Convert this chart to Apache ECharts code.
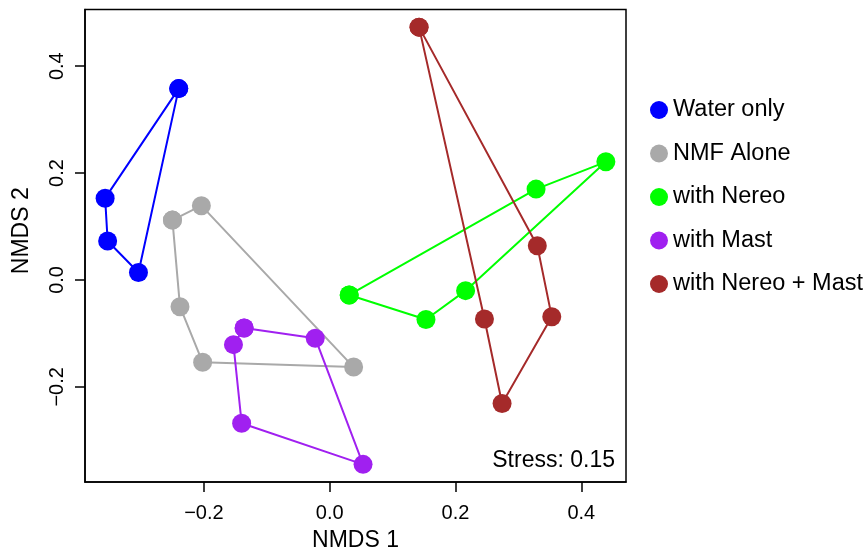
<!DOCTYPE html>
<html>
<head>
<meta charset="utf-8">
<script src="https://cdn.jsdelivr.net/npm/echarts@6/dist/echarts.min.js"></script>
<style>
html,body{margin:0;padding:0;background:#fff;}
#chart{width:863px;height:557px;}
</style>
</head>
<body>
<div id="chart"></div>
<script>
// Data (NMDS coordinates), in hull order
const groupNames = ["Water only", "NMF Alone", "with Nereo", "with Mast", "with Nereo + Mast"];
const waterX = [-0.240, -0.357, -0.353, -0.304];
const waterY = [0.358, 0.153, 0.073, 0.014];
const nmfX = [-0.250, -0.204, 0.038, -0.202, -0.238];
const nmfY = [0.112, 0.139, -0.163, -0.154, -0.050];
const nereoX = [0.031, 0.328, 0.439, 0.216, 0.153];
const nereoY = [-0.028, 0.170, 0.221, -0.020, -0.074];
const mastX = [-0.136, -0.023, 0.053, -0.140, -0.153];
const mastY = [-0.090, -0.109, -0.345, -0.268, -0.121];
const bothX = [0.142, 0.330, 0.353, 0.274, 0.246];
const bothY = [0.473, 0.064, -0.069, -0.231, -0.073];
const xTicks = [-0.2, 0.0, 0.2, 0.4];
const yTicks = [-0.2, 0.0, 0.2, 0.4];
const stressLabel = "Stress: 0.15";

const colors = ["#0000FF", "#A9A9A9", "#00FF00", "#A020F0", "#A52A2A"];
const groupsX = [waterX, nmfX, nereoX, mastX, bothX];
const groupsY = [waterY, nmfY, nereoY, mastY, bothY];

function closed(xs, ys) {
  const pts = xs.map((x, i) => [x, ys[i]]);
  pts.push([xs[0], ys[0]]);
  return pts;
}
const fmt = v => v.toFixed(1).replace('-', '\u2212');
const FONT = "Liberation Sans, Arial, Helvetica, sans-serif";

const chart = echarts.init(document.getElementById('chart'), null, {renderer: 'canvas'});
chart.setOption({
  animation: false,
  backgroundColor: '#ffffff',
  grid: {left: 85, right: 237, top: 9.5, bottom: 75, show: true, borderColor: '#000', borderWidth: 1.5, backgroundColor: 'transparent'},
  xAxis: {
    type: 'value', min: -0.389, max: 0.471,
    name: 'NMDS 1', nameLocation: 'middle', nameGap: 47,
    nameTextStyle: {fontFamily: FONT, fontSize: 23, color: '#000'},
    axisLine: {show: true, onZero: false, lineStyle: {color: '#000', width: 1.5}},
    axisTick: {show: true, length: 10, lineStyle: {color: '#000', width: 1.5}, customValues: xTicks},
    axisLabel: {fontFamily: FONT, fontSize: 20, color: '#000', margin: 21, customValues: xTicks, formatter: fmt},
    splitLine: {show: false}
  },
  yAxis: {
    type: 'value', min: -0.378, max: 0.506,
    name: 'NMDS 2', nameLocation: 'middle', nameGap: 52, nameRotate: 90,
    nameTextStyle: {fontFamily: FONT, fontSize: 23, color: '#000', padding: [0, 0, 0, 30]},
    axisLine: {show: true, onZero: false, lineStyle: {color: '#000', width: 1.5}},
    axisTick: {show: true, length: 10, lineStyle: {color: '#000', width: 1.5}, customValues: yTicks},
    axisLabel: {fontFamily: FONT, fontSize: 20, color: '#000', margin: 18, rotate: 90, customValues: yTicks, formatter: fmt},
    splitLine: {show: false}
  },
  legend: {
    orient: 'vertical', left: 645, top: 93, itemGap: 19.5,
    itemWidth: 18, itemHeight: 18, icon: 'circle',
    textStyle: {fontFamily: FONT, fontSize: 23.5, color: '#000', lineHeight: 24},
    data: groupNames
  },
  graphic: [{
    type: 'text', right: 248, top: 449,
    style: {text: stressLabel, fontFamily: FONT, fontSize: 23, fill: '#000'}
  }],
  series: groupNames.map((name, i) => ({
    name: name, type: 'line',
    data: closed(groupsX[i], groupsY[i]),
    symbol: 'circle', symbolSize: 19, showSymbol: true,
    itemStyle: {color: colors[i], opacity: 1},
    lineStyle: {color: colors[i], width: 2},
    emphasis: {disabled: true}
  }))
});
</script>
</body>
</html>
